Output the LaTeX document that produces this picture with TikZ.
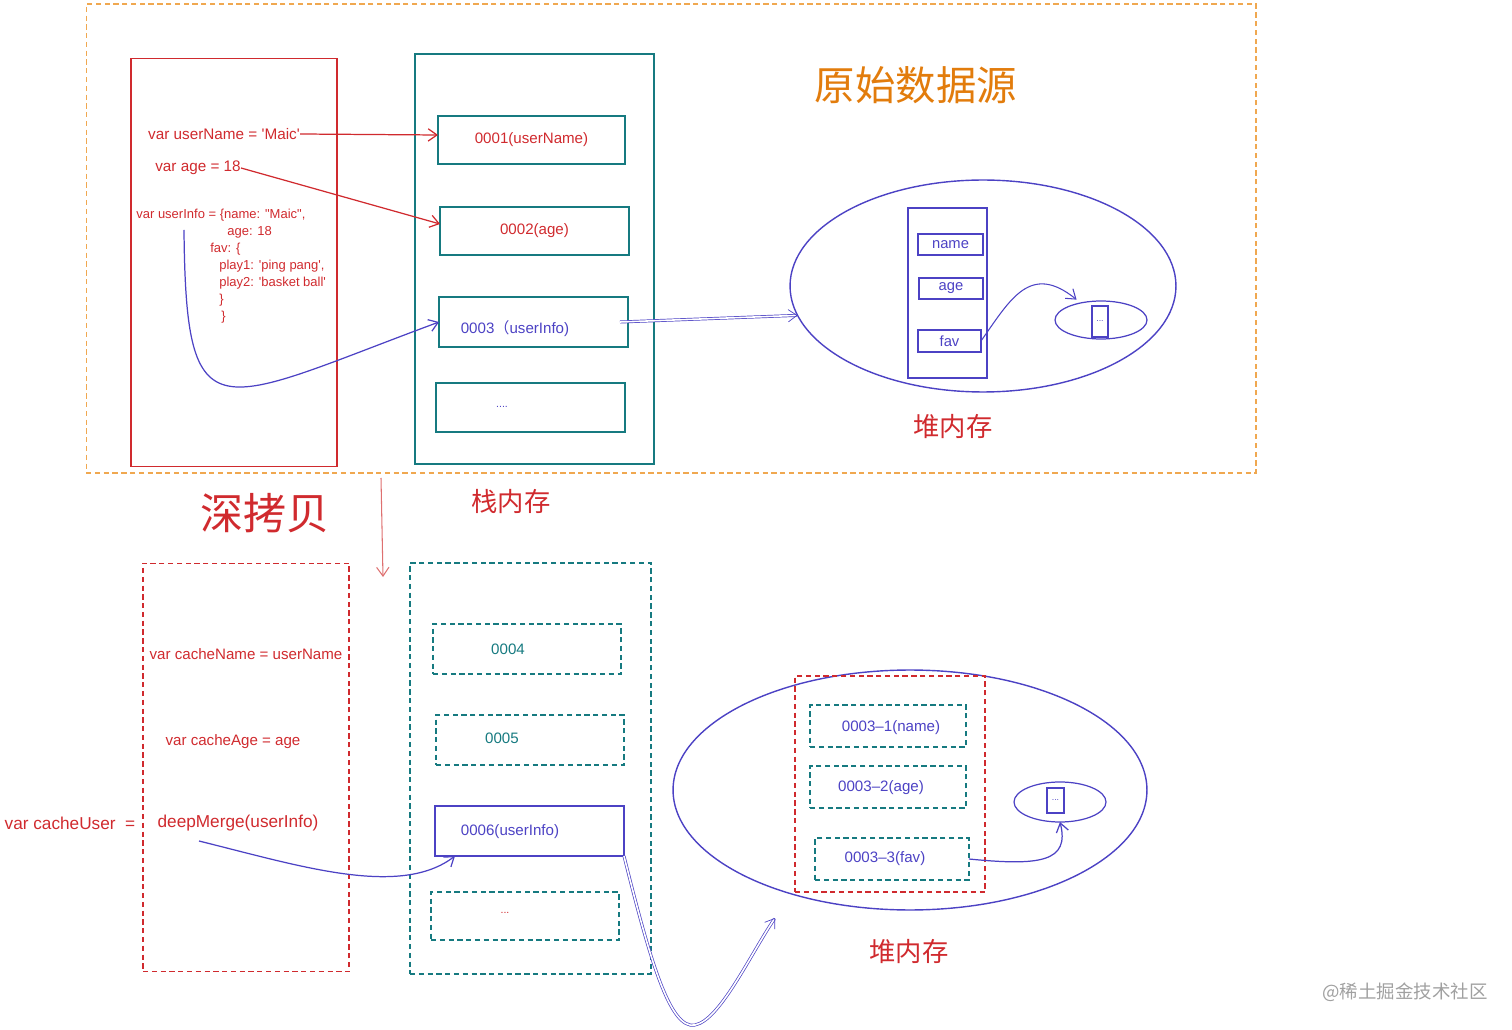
\documentclass[tikz,border=0pt]{standalone}
\usepackage{fontspec}
\setmainfont{Liberation Sans}[Ligatures=TeXOff]
\newfontfamily\cjk{Noto Sans CJK SC}
\usepackage{tikz}
\usetikzlibrary{arrows.meta}
\usetikzlibrary{shapes.geometric}

\definecolor{frameOrange}{RGB}{240,168,80}
\definecolor{titleOrange}{RGB}{226,124,12}
\definecolor{codeRed}{RGB}{208,42,46}
\definecolor{softRed}{RGB}{222,112,112}
\definecolor{stackTeal}{RGB}{22,122,128}
\definecolor{heapBlue}{RGB}{76,66,196}
\definecolor{markGray}{RGB}{160,160,160}

\begin{document}
\begin{tikzpicture}[x=0.02cm,y=-0.02cm,
  codetxt/.style={text=codeRed,font=\fontsize{8.7}{10}\selectfont,inner sep=0pt},
  celltxt/.style={font=\fontsize{8.6}{10}\selectfont,inner sep=0pt},
  cell/.style={draw=stackTeal,line width=0.7pt,rectangle,inner sep=0pt,outer sep=0pt},
  dashcell/.style={cell,dash pattern=on 3pt off 2pt},
  heapshape/.style={draw=heapBlue,line width=0.8pt,ellipse,inner sep=0pt,outer sep=0pt},
  keycell/.style={draw=heapBlue,line width=0.7pt,rectangle,inner sep=0pt,outer sep=0pt,text=heapBlue,font=\fontsize{8.4}{10}\selectfont},
  bigcjk/.style={text=codeRed,inner sep=0pt},
  sketcharrow/.style={-{Straight Barb[length=5pt,width=7pt]},line width=0.7pt},
  duoarrow/.style={sketcharrow,double=white,double distance=0.9pt,line width=0.4pt}]
\useasboundingbox (0,0) rectangle (1512,1030);

% original data
\node[draw=frameOrange,dash pattern=on 3pt off 2pt,line width=0.7pt,minimum width=23.4cm,minimum height=9.38cm,inner sep=0pt] (srcFrame) at (671,238.5) {};
\node[text=titleOrange,font=\cjk\fontsize{23}{26}\selectfont,inner sep=0pt] (srcTitle) at (916,85) {原始数据源};

\node[draw=codeRed,line width=0.6pt,minimum width=4.12cm,minimum height=8.18cm,inner sep=0pt] (varCol) at (234,262.5) {};
\node[codetxt] (txtUserName) at (224,134) {var userName = 'Maic'};
\node[codetxt] (txtAge) at (198,168) {var age = 18};
\node[codetxt,font=\fontsize{7.4}{9.64}\selectfont,align=left,anchor=north west] (txtUserInfo) at (136,209)
  {var userInfo = \{name: "Maic",\\
   \hspace*{1.82cm}age: 18\\
   \hspace*{1.48cm}fav: \{\\
   \hspace*{1.66cm}play1: 'ping pang',\\
   \hspace*{1.66cm}play2: 'basket ball'\\
   \hspace*{1.66cm}\}\\
   \hspace*{1.70cm}\}};

\node[cell,minimum width=4.78cm,minimum height=8.2cm] (stackCol) at (534.5,259) {};
\node[cell,minimum width=3.74cm,minimum height=0.96cm,celltxt,text=codeRed] (addrName) at (531.5,140) {0001(userName)};
\node[cell,minimum width=3.78cm,minimum height=0.96cm,celltxt,text=codeRed] (addrAge) at (534.5,231) {0002(age)};
\node[cell,minimum width=3.78cm,minimum height=1cm] (addrInfo) at (533.5,322) {};
\node[celltxt,text=heapBlue] (lblInfo) at (515,329) {0003{\cjk （}userInfo)};
\node[cell,minimum width=3.78cm,minimum height=0.98cm] (addrMore) at (530.5,407.5) {};
\node[celltxt,text=heapBlue,font=\fontsize{6}{8}\selectfont] (lblMore) at (502,407) {....};
\node[bigcjk,font=\cjk\fontsize{15}{18}\selectfont] (stackTitle) at (511,502) {栈内存};

\node[heapshape,minimum width=7.72cm,minimum height=4.24cm] (heapTop) at (983,286) {};
\node[draw=heapBlue,line width=0.7pt,minimum width=1.58cm,minimum height=3.4cm,inner sep=0pt] (objCol) at (947.5,293) {};
\node[keycell,minimum width=1.3cm,minimum height=0.42cm] (keyName) at (950.5,244.5) {name};
\node[keycell,minimum width=1.28cm,minimum height=0.42cm] (keyAge) at (951,288.5) {age};
\node[keycell,minimum width=1.26cm,minimum height=0.44cm] (keyFav) at (949.5,341) {fav};
\node[heapshape,line width=0.7pt,minimum width=1.84cm,minimum height=0.76cm] (favHeap) at (1101,320) {};
\node[keycell,minimum width=0.32cm,minimum height=0.62cm,font=\fontsize{5}{6}\selectfont] (favBox) at (1100,321.5) {...};
\node[bigcjk,font=\cjk\fontsize{15}{18}\selectfont] (heapTitle) at (953,427) {堆内存};

\coordinate (infoStart) at (184,230);
\draw[sketcharrow,codeRed] (txtUserName.east) -- ([yshift=0.1cm]addrName.west);
\draw[sketcharrow,codeRed] (txtAge.east) -- ([yshift=0.14cm]addrAge.west);
\draw[sketcharrow,heapBlue] (infoStart) .. controls (186,440) and (215,405) .. (addrInfo.west);
\draw[duoarrow,heapBlue] ([xshift=-0.16cm]addrInfo.east) -- (heapTop.189);
\draw[sketcharrow,heapBlue,line width=0.6pt,shorten >=3pt] (keyFav.east) .. controls (1010,300) and (1030,262) .. (favHeap.140);

% deep copy
\node[bigcjk,font=\cjk\fontsize{24.5}{28}\selectfont] (copyTitle) at (265,513) {深拷贝};
\coordinate (copyFrom) at (381,478);
\coordinate (copyTo) at (383,577);
\draw[sketcharrow,softRed,line width=0.6pt] (copyFrom) -- (copyTo);

\node[draw=codeRed,dash pattern=on 3pt off 2pt,line width=0.6pt,minimum width=4.12cm,minimum height=8.18cm,inner sep=0pt] (copyVarCol) at (246,767.5) {};
\node[codetxt,font=\fontsize{8.6}{10}\selectfont] (txtCacheName) at (246,654) {var cacheName = userName};
\node[codetxt,font=\fontsize{8.6}{10}\selectfont] (txtCacheAge) at (233,742) {var cacheAge = age};
\node[codetxt,font=\fontsize{9.8}{12}\selectfont] (txtCacheUser) at (70,823) {var cacheUser\ \ =};
\node[codetxt,font=\fontsize{9.8}{12}\selectfont] (txtDeep) at (238,823) {deepMerge(userInfo)};

\node[dashcell,minimum width=4.82cm,minimum height=8.22cm] (copyStack) at (530.5,768.5) {};
\node[dashcell,minimum width=3.76cm,minimum height=1cm] (addrCName) at (527,649) {};
\node[celltxt,text=stackTeal] (lblCName) at (508,649) {0004};
\node[dashcell,minimum width=3.76cm,minimum height=1cm] (addrCAge) at (530,740) {};
\node[celltxt,text=stackTeal] (lblCAge) at (502,738) {0005};
\node[cell,draw=heapBlue,minimum width=3.78cm,minimum height=1cm] (addrCUser) at (529.5,831) {};
\node[celltxt,text=heapBlue] (lblCUser) at (510,832) {0006(userInfo)};
\node[dashcell,minimum width=3.76cm,minimum height=0.96cm] (addrCMore) at (525,916) {};
\node[celltxt,text=codeRed,font=\fontsize{6}{8}\selectfont] (lblCMore) at (505,913) {...};

\node[heapshape,minimum width=9.48cm,minimum height=4.8cm] (heapBottom) at (910,790) {};
\node[draw=codeRed,dash pattern=on 3pt off 2pt,line width=0.7pt,minimum width=3.8cm,minimum height=4.32cm,inner sep=0pt] (copyObj) at (890,784) {};
\node[dashcell,minimum width=3.12cm,minimum height=0.84cm] (cKeyName) at (888,726) {};
\node[celltxt,text=heapBlue] (lblKeyName) at (891,728) {0003–1(name)};
\node[dashcell,minimum width=3.12cm,minimum height=0.84cm] (cKeyAge) at (888,787) {};
\node[celltxt,text=heapBlue] (lblKeyAge) at (881,788) {0003–2(age)};
\node[dashcell,minimum width=3.08cm,minimum height=0.84cm] (cKeyFav) at (892,859) {};
\node[celltxt,text=heapBlue] (lblKeyFav) at (885,859) {0003–3(fav)};
\node[heapshape,line width=0.7pt,minimum width=1.84cm,minimum height=0.8cm] (cFavHeap) at (1060,802) {};
\node[keycell,minimum width=0.34cm,minimum height=0.5cm,font=\fontsize{5}{6}\selectfont] (cFavBox) at (1055.5,800.5) {...};
\node[bigcjk,font=\cjk\fontsize{15}{18}\selectfont] (heapCopyTitle) at (909,952) {堆内存};

\coordinate (mergeStart) at (199,841);
\coordinate (heapIn) at (775,918);
\draw[sketcharrow,heapBlue] (mergeStart) .. controls (300,866) and (400,898) .. ([xshift=0.4cm]addrCUser.south west);
\draw[duoarrow,heapBlue] (addrCUser.south east) .. controls (650,960) and (670,1030) .. (695,1025) .. controls (720,1020) and (750,955) .. (heapIn);
\draw[sketcharrow,heapBlue] (cKeyFav.east) .. controls (1040,866) and (1070,862) .. (cFavHeap.south);

\node[text=markGray,font=\cjk\fontsize{10.5}{12}\selectfont,inner sep=0pt] (watermark) at (1405,992) {@稀土掘金技术社区};
\end{tikzpicture}
\end{document}
